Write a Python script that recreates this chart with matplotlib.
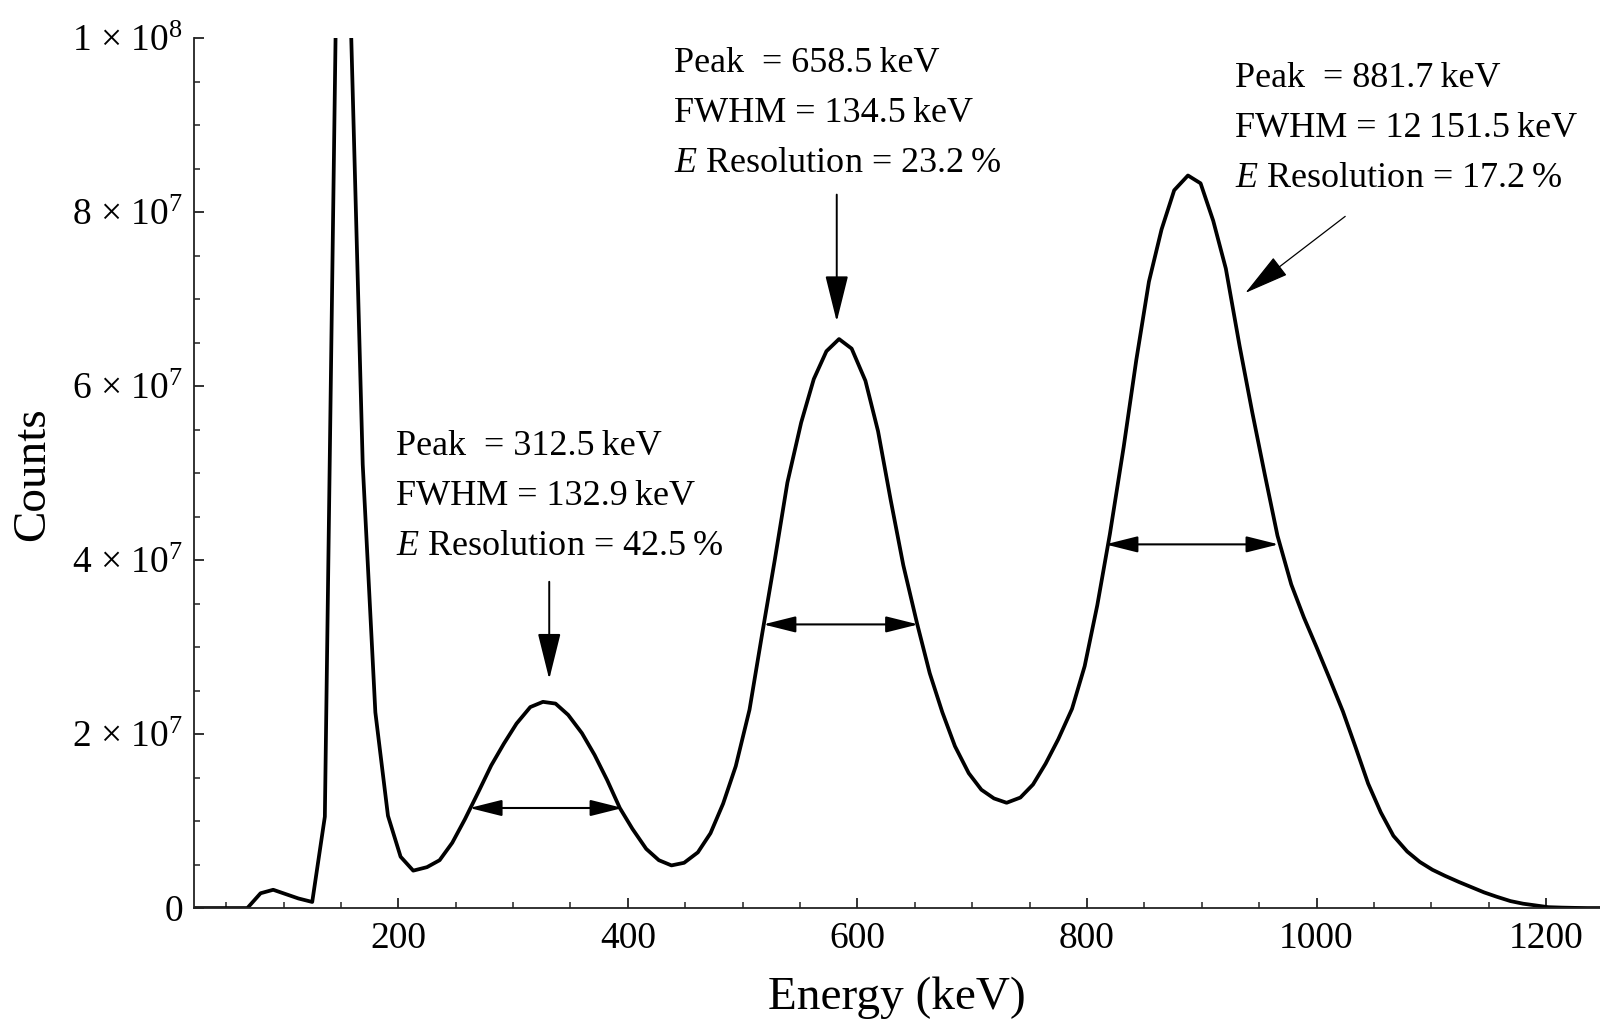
import matplotlib
matplotlib.use('Agg')
import matplotlib.pyplot as plt
from matplotlib.ticker import MultipleLocator

plt.rcParams['font.family'] = ['Liberation Serif', 'DejaVu Serif']
plt.rcParams['mathtext.fontset'] = 'custom'
plt.rcParams['mathtext.rm'] = 'Liberation Serif'
plt.rcParams['mathtext.it'] = 'Liberation Serif:italic'

# ---- data (keV, counts in units of 1e6) ----
energy = [22, 35, 46, 57, 68.5, 80, 91, 102, 113, 125, 136, 147, 158, 169, 180, 191,
          202, 213, 225, 236, 247, 258, 270, 281, 292, 303, 315, 326, 337, 348, 360,
          371, 382, 393, 404, 416, 427, 438, 449, 461, 472, 483, 494, 506, 517, 528,
          539, 551, 562, 573, 584, 595, 607, 618, 629, 640, 652, 663, 674, 685, 697,
          708, 719, 730, 742, 753, 764, 775, 787, 798, 809, 820, 832, 843, 854, 865,
          876, 888, 899, 910, 921, 933, 944, 955, 966, 978, 989, 1000, 1011, 1023,
          1034, 1045, 1056, 1067, 1079, 1090, 1101, 1112, 1124, 1135, 1146, 1157,
          1169, 1180, 1191, 1202, 1214, 1225, 1236, 1247]
counts_M = [0, 0, 0, 0, 0, 1.7, 2.1, 1.6, 1.1, 0.7, 10.5, 116, 105, 51, 22.5, 10.6,
            5.9, 4.3, 4.7, 5.5, 7.5, 10.2, 13.4, 16.4, 18.9, 21.2, 23.1, 23.7, 23.5,
            22.2, 20.1, 17.6, 14.7, 11.5, 9.1, 6.8, 5.5, 4.9, 5.2, 6.4, 8.6, 12.0,
            16.3, 22.8, 31.5, 40.0, 48.9, 55.8, 60.8, 64.0, 65.4, 64.3, 60.6, 54.8,
            46.9, 39.4, 32.7, 27.0, 22.5, 18.6, 15.5, 13.6, 12.6, 12.1, 12.7, 14.2,
            16.6, 19.4, 22.9, 27.8, 34.8, 43.0, 53.0, 63.0, 72.0, 78.0, 82.5, 84.2,
            83.3, 79.0, 73.5, 64.6, 57.0, 49.8, 42.8, 37.2, 33.4, 30.0, 26.5, 22.6,
            18.5, 14.3, 11.0, 8.3, 6.5, 5.3, 4.4, 3.7, 3.0, 2.4, 1.8, 1.3, 0.8, 0.5,
            0.3, 0.1, 0.05, 0.02, 0, 0]
counts = [c * 1e6 for c in counts_M]

xticks = [200, 400, 600, 800, 1000, 1200]
yticks = [0, 2e7, 4e7, 6e7, 8e7, 1e8]
ytick_labels = ['0', '2 × 10$^{7}$', '4 × 10$^{7}$', '6 × 10$^{7}$',
                '8 × 10$^{7}$', '1 × 10$^{8}$']

# annotation values
peak_texts = [
    ['Peak  = 312.5\u2009keV', 'FWHM = 132.9\u2009keV', '$E$ Resolution = 42.5\u2009%'],
    ['Peak  = 658.5\u2009keV', 'FWHM = 134.5\u2009keV', '$E$ Resolution = 23.2\u2009%'],
    ['Peak  = 881.7\u2009keV', 'FWHM = 12\u2009151.5\u2009keV', '$E$ Resolution = 17.2\u2009%'],
]
text_x = [198, 440, 929]
text_y = [[5.31e7, 4.73e7, 4.16e7], [9.71e7, 9.13e7, 8.56e7], [9.54e7, 8.96e7, 8.39e7]]
# FWHM arrows: left energy, right energy, level
fwhm_left = [262, 518, 816]
fwhm_right = [395.5, 653, 967]
fwhm_level = [1.15e7, 3.26e7, 4.18e7]
# pointer arrows (start, end)
ptr_start = [(331.5, 3.75e7), (582, 8.2e7), (1025, 7.95e7)]
ptr_end = [(331.5, 2.63e7), (582, 6.74e7), (938, 7.07e7)]
ptr_lw = [1.4, 1.4, 0.9]

fig = plt.figure(figsize=(16, 10.22), dpi=100)
ax = fig.add_axes([0.12125, 0.1115, 0.87875, 0.8513])

ax.plot(energy, counts, color='black', lw=2.7, solid_joinstyle='round')

ax.set_xlim(22, 1247)
ax.set_ylim(0, 1e8)

for s in ['top', 'right']:
    ax.spines[s].set_visible(False)
for s in ['left', 'bottom']:
    ax.spines[s].set_linewidth(1.3)
    ax.spines[s].set_color('#222222')

ax.set_xticks(xticks)
ax.set_yticks(yticks, ytick_labels)
ax.xaxis.set_minor_locator(MultipleLocator(50))
ax.yaxis.set_minor_locator(MultipleLocator(5e6))
ax.tick_params(which='major', direction='in', length=7, width=1.3, labelsize=27,
               color='#222222')
ax.tick_params(which='minor', direction='in', length=4, width=1.1, color='#222222')
ax.tick_params(axis='x', pad=10)
ax.tick_params(axis='y', pad=8)

fig.text(897 / 1600, 1 - 998 / 1022, 'Energy (keV)', ha='center', va='center', fontsize=34)
fig.text(33 / 1600, 1 - 474 / 1022, 'Counts', ha='center', va='center', fontsize=34,
         rotation=90)

for lines, tx, tys in zip(peak_texts, text_x, text_y):
    for line, ty in zip(lines, tys):
        ax.text(tx, ty, line, ha='left', va='center', fontsize=26)

for xl, xr, lv in zip(fwhm_left, fwhm_right, fwhm_level):
    ax.annotate('', xy=(xr, lv), xytext=(xl, lv),
                arrowprops=dict(arrowstyle='<|-|>,head_length=1.0,head_width=0.25',
                                mutation_scale=20, lw=1.5, color='black',
                                shrinkA=0, shrinkB=0))

for st, en, lw in zip(ptr_start, ptr_end, ptr_lw):
    ax.annotate('', xy=en, xytext=st,
                arrowprops=dict(arrowstyle='-|>,head_length=1.45,head_width=0.36',
                                mutation_scale=20, lw=lw, color='black',
                                shrinkA=0, shrinkB=0))

fig.savefig('out.png', dpi=100)
